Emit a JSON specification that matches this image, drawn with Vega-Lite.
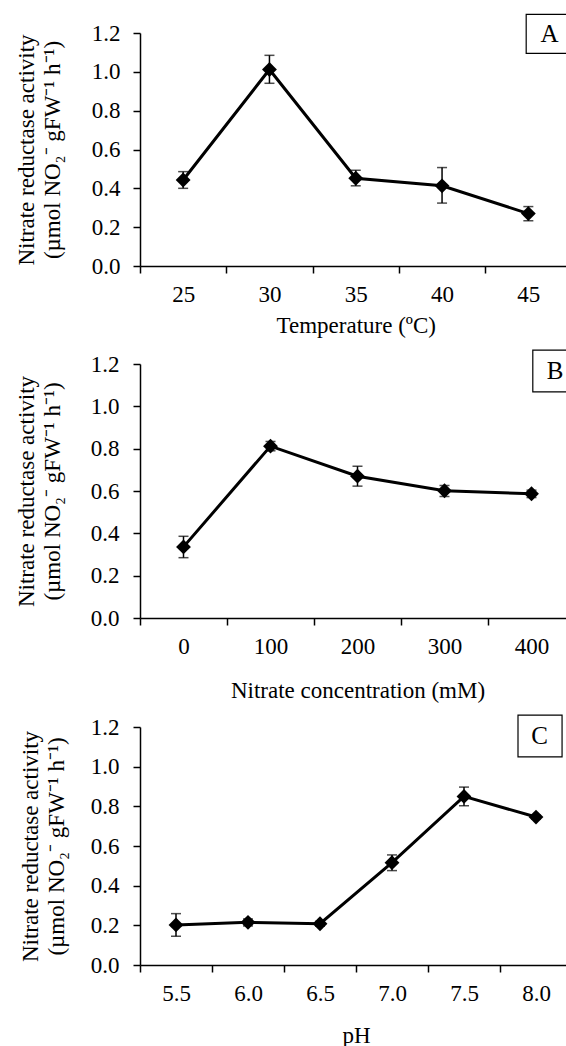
{
  "$schema": "https://vega.github.io/schema/vega-lite/v6.json",
  "padding": {"top": 13, "left": 15, "right": 0, "bottom": 0},
  "spacing": 12,
  "config": {
    "font": "Liberation Serif",
    "view": {"stroke": null},
    "axis": {
      "domainColor": "black", "domainWidth": 1.5, "tickColor": "black", "tickWidth": 1.5, "tickSize": 7,
      "labelColor": "black", "titleColor": "black", "labelFontSize": 23, "titleFontSize": 23,
      "titleFontWeight": "normal", "grid": false, "labelFont": "Liberation Serif", "titleFont": "Liberation Serif"
    },
    "axisY": {"values": [0, 0.2, 0.4, 0.6, 0.8, 1.0, 1.2], "format": ".1f", "labelPadding": 13, "titlePadding": 27, "titleLineHeight": 26},
    "axisX": {"tickBand": "extent", "labelAngle": 0, "labelPadding": 10}
  },
  "datasets": {
    "temp": [
      {"T": "25", "v": 0.443, "lo": 0.400, "hi": 0.486},
      {"T": "30", "v": 1.012, "lo": 0.941, "hi": 1.085},
      {"T": "35", "v": 0.452, "lo": 0.413, "hi": 0.493},
      {"T": "40", "v": 0.413, "lo": 0.324, "hi": 0.507},
      {"T": "45", "v": 0.270, "lo": 0.233, "hi": 0.306}
    ],
    "nitrate": [
      {"N": "0", "v": 0.336, "lo": 0.285, "hi": 0.386},
      {"N": "100", "v": 0.812, "lo": 0.790, "hi": 0.834},
      {"N": "200", "v": 0.670, "lo": 0.623, "hi": 0.717},
      {"N": "300", "v": 0.601, "lo": 0.574, "hi": 0.626},
      {"N": "400", "v": 0.587, "lo": 0.569, "hi": 0.604}
    ],
    "ph": [
      {"pH": "5.5", "v": 0.202, "lo": 0.145, "hi": 0.259},
      {"pH": "6.0", "v": 0.215, "lo": 0.197, "hi": 0.232},
      {"pH": "6.5", "v": 0.208, "lo": 0.196, "hi": 0.220},
      {"pH": "7.0", "v": 0.516, "lo": 0.476, "hi": 0.555},
      {"pH": "7.5", "v": 0.850, "lo": 0.803, "hi": 0.897},
      {"pH": "8.0", "v": 0.746, "lo": 0.736, "hi": 0.756}
    ],
    "labA": [{"panel": "A"}],
    "labB": [{"panel": "B"}],
    "labC": [{"panel": "C"}]
  },
  "vconcat": [
    {
      "width": 431.5, "height": 233,
      "layer": [
        {
          "data": {"name": "temp"},
          "encoding": {
            "x": {"field": "T", "type": "ordinal", "sort": null, "scale": {"paddingInner": 0, "paddingOuter": 0}, "axis": {"title": "Temperature (ºC)", "titlePadding": 8}},
            "y": {"field": "v", "type": "quantitative", "scale": {"domain": [0, 1.2]}, "axis": {"title": ["Nitrate reductase activity", "(µmol NO₂⁻ gFW⁻¹ h⁻¹)"]}}
          },
          "layer": [
            {"mark": {"type": "line", "color": "black", "strokeWidth": 3}},
            {"mark": {"type": "errorbar", "color": "black", "thickness": 1.5, "ticks": {"size": 10, "thickness": 1.5, "color": "black"}}, "encoding": {"y": {"field": "lo", "type": "quantitative"}, "y2": {"field": "hi"}}},
            {"mark": {"type": "point", "shape": "diamond", "filled": true, "color": "black", "opacity": 1, "size": 220}}
          ]
        },
        {
          "data": {"name": "labA"},
          "layer": [
            {"mark": {"type": "rect", "fill": "white", "stroke": "black", "strokeWidth": 1.2},
             "encoding": {"x": {"datum": 0.895, "type": "quantitative", "scale": {"domain": [0, 1]}, "axis": null}, "x2": {"datum": 1.02}, "y": {"datum": 1.296, "type": "quantitative"}, "y2": {"datum": 1.095}}},
            {"mark": {"type": "text", "fontSize": 25, "color": "black", "baseline": "middle", "align": "center"},
             "encoding": {"x": {"datum": 0.949, "type": "quantitative", "axis": null}, "y": {"datum": 1.196, "type": "quantitative"}, "text": {"field": "panel"}}}
          ]
        }
      ],
      "resolve": {"scale": {"x": "independent"}}
    },
    {
      "width": 435, "height": 254,
      "layer": [
        {
          "data": {"name": "nitrate"},
          "encoding": {
            "x": {"field": "N", "type": "ordinal", "sort": null, "scale": {"paddingInner": 0, "paddingOuter": 0}, "axis": {"title": "Nitrate concentration (mM)", "titlePadding": 21}},
            "y": {"field": "v", "type": "quantitative", "scale": {"domain": [0, 1.2]}, "axis": {"title": ["Nitrate reductase activity", "(µmol NO₂⁻ gFW⁻¹ h⁻¹)"], "labelPadding": 14, "titlePadding": 26}}
          },
          "layer": [
            {"mark": {"type": "line", "color": "black", "strokeWidth": 3}},
            {"mark": {"type": "errorbar", "color": "black", "thickness": 1.5, "ticks": {"size": 10, "thickness": 1.5, "color": "black"}}, "encoding": {"y": {"field": "lo", "type": "quantitative"}, "y2": {"field": "hi"}}},
            {"mark": {"type": "point", "shape": "diamond", "filled": true, "color": "black", "opacity": 1, "size": 220}}
          ]
        },
        {
          "data": {"name": "labB"},
          "layer": [
            {"mark": {"type": "rect", "fill": "white", "stroke": "black", "strokeWidth": 1.2},
             "encoding": {"x": {"datum": 0.903, "type": "quantitative", "scale": {"domain": [0, 1]}, "axis": null}, "x2": {"datum": 1.02}, "y": {"datum": 1.266, "type": "quantitative"}, "y2": {"datum": 1.068}}},
            {"mark": {"type": "text", "fontSize": 25, "color": "black", "baseline": "middle", "align": "center"},
             "encoding": {"x": {"datum": 0.954, "type": "quantitative", "axis": null}, "y": {"datum": 1.167, "type": "quantitative"}, "text": {"field": "panel"}}}
          ]
        }
      ],
      "resolve": {"scale": {"x": "independent"}}
    },
    {
      "width": 432, "height": 238,
      "layer": [
        {
          "data": {"name": "ph"},
          "encoding": {
            "x": {"field": "pH", "type": "ordinal", "sort": null, "scale": {"paddingInner": 0, "paddingOuter": 0}, "axis": {"title": "pH", "titlePadding": 19}},
            "y": {"field": "v", "type": "quantitative", "scale": {"domain": [0, 1.2]}, "axis": {"title": ["Nitrate reductase activity", "(µmol NO₂⁻ gFW⁻¹ h⁻¹)"], "labelPadding": 14, "titlePadding": 22}}
          },
          "layer": [
            {"mark": {"type": "line", "color": "black", "strokeWidth": 3}},
            {"mark": {"type": "errorbar", "color": "black", "thickness": 1.5, "ticks": {"size": 10, "thickness": 1.5, "color": "black"}}, "encoding": {"y": {"field": "lo", "type": "quantitative"}, "y2": {"field": "hi"}}},
            {"mark": {"type": "point", "shape": "diamond", "filled": true, "color": "black", "opacity": 1, "size": 220}}
          ]
        },
        {
          "data": {"name": "labC"},
          "layer": [
            {"mark": {"type": "rect", "fill": "white", "stroke": "black", "strokeWidth": 1.2},
             "encoding": {"x": {"datum": 0.875, "type": "quantitative", "scale": {"domain": [0, 1]}, "axis": null}, "x2": {"datum": 0.977}, "y": {"datum": 1.26, "type": "quantitative"}, "y2": {"datum": 1.049}}},
            {"mark": {"type": "text", "fontSize": 25, "color": "black", "baseline": "middle", "align": "center"},
             "encoding": {"x": {"datum": 0.925, "type": "quantitative", "axis": null}, "y": {"datum": 1.155, "type": "quantitative"}, "text": {"field": "panel"}}}
          ]
        }
      ],
      "resolve": {"scale": {"x": "independent"}}
    }
  ]
}
